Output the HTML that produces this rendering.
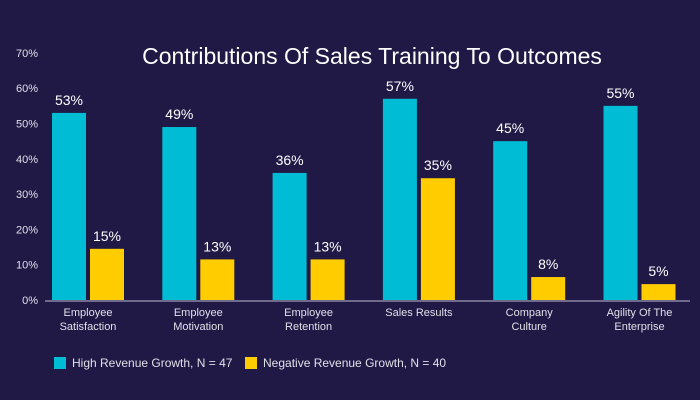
<!DOCTYPE html>
<html><head><meta charset="utf-8"><style>
html,body{margin:0;padding:0;background:#201845;}
svg{display:block;font-family:"Liberation Sans",sans-serif;}
</style></head><body>
<svg id="chart" width="700" height="400" viewBox="0 0 700 400">
<rect width="700" height="400" fill="#201845"/>
<text x="372" y="64" text-anchor="middle" fill="#fff" font-size="23">Contributions Of Sales Training To Outcomes</text>
<g id="axis"></g><g id="bars"></g>
<g>
<rect x="54" y="357" width="12" height="12" fill="#00bcd4"/>
<text x="72" y="367" fill="#e0e0e8" font-size="12">High Revenue Growth, N = 47</text>
<rect x="245" y="357" width="12" height="12" fill="#ffcc00"/>
<text x="263" y="367" fill="#e0e0e8" font-size="12">Negative Revenue Growth, N = 40</text>
</g>
</svg>
<script>
const categories=[["Employee","Satisfaction"],["Employee","Motivation"],["Employee","Retention"],["Sales Results"],["Company","Culture"],["Agility Of The","Enterprise"]];
const highValues=[53,49,36,57,45,55];
const negValues=[14.5,11.5,11.5,34.5,6.5,4.5];
const highLabels=["53%","49%","36%","57%","45%","55%"];
const negLabels=["15%","13%","13%","35%","8%","5%"];
const yTicks=[0,10,20,30,40,50,60,70];
const NS="http://www.w3.org/2000/svg";
const y0=300,pxPer=3.53,xL=45,xR=690;
const y=v=>y0-v*pxPer;
const gw=110.3;
const xc=i=>88+gw*i;
function mk(t,a,p,txt){const e=document.createElementNS(NS,t);for(const k in a)e.setAttribute(k,a[k]);if(txt!==undefined)e.textContent=txt;p.appendChild(e);return e;}
const ax=document.getElementById('axis'),bars=document.getElementById('bars');
yTicks.forEach(t=>{const e=mk('text',{x:38,y:y(t)+4,'text-anchor':'end',fill:'#e0e0e8','font-size':11},ax,t+'%');

});
const al=mk('line',{x1:xL,x2:xR,y1:y0+1,y2:y0+1,stroke:'#8a86a8','stroke-width':1.5},ax);


categories.forEach((c,i)=>{
 const cx=xc(i);
 const b1=mk('rect',{x:cx-36,y:y(highValues[i]),width:34,height:highValues[i]*pxPer,fill:'#00bcd4'},bars);
 
 
 const b2=mk('rect',{x:cx+2,y:y(negValues[i]),width:34,height:negValues[i]*pxPer,fill:'#ffcc00'},bars);
 
 
 const l1=mk('text',{x:cx-19,y:y(highValues[i])-8,'text-anchor':'middle',fill:'#fff','font-size':14},bars,highLabels[i]);
 
 
 const l2=mk('text',{x:cx+19,y:y(negValues[i])-8,'text-anchor':'middle',fill:'#fff','font-size':14},bars,negLabels[i]);
 
 
 c.forEach((ln,j)=>{const t=mk('text',{x:cx,y:316+j*14,'text-anchor':'middle',fill:'#e0e0e8','font-size':11},ax,ln);
 
 });
});
</script>
</body></html>
